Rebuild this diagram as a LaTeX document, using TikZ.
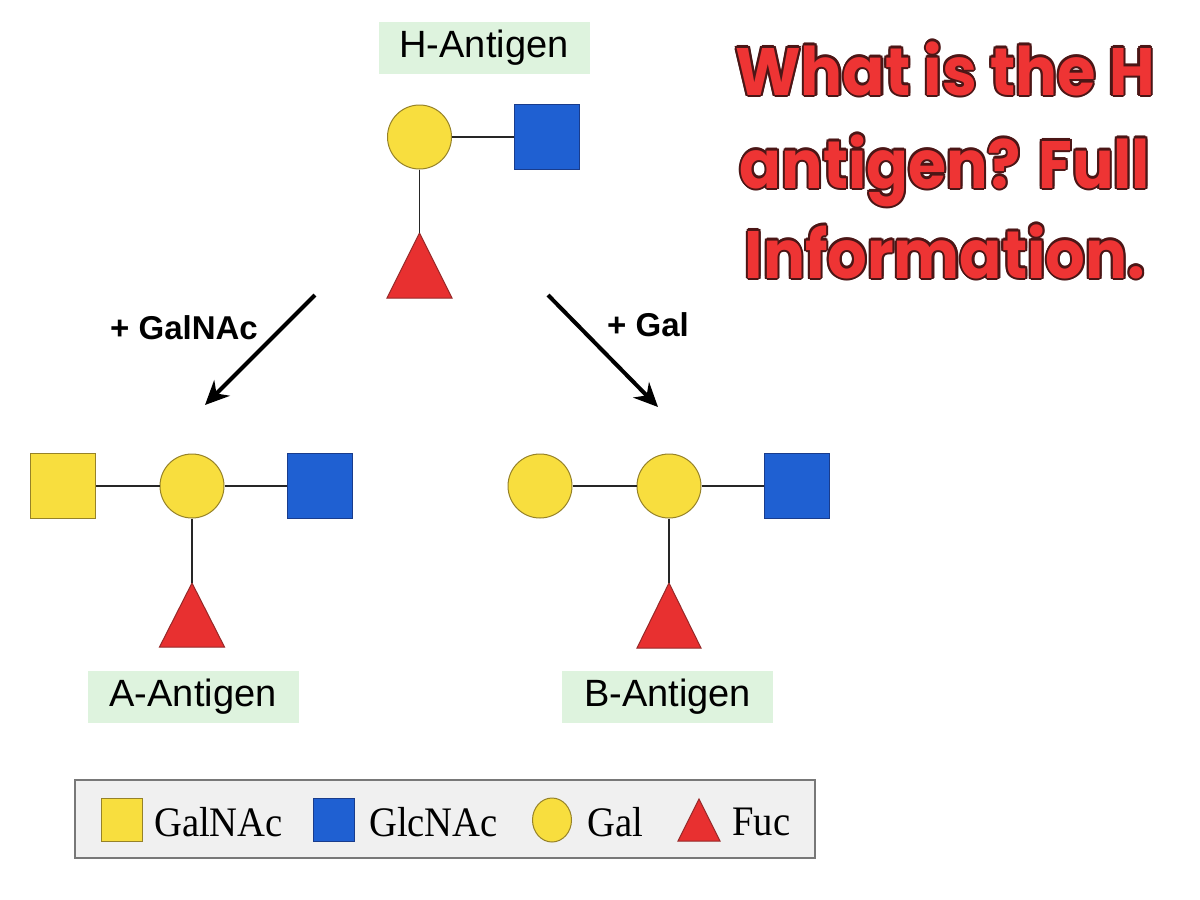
\documentclass[tikz,border=0pt]{standalone}
\usepackage{fontspec}
\usetikzlibrary{arrows.meta,shapes.geometric}
\newfontfamily\lsans{Liberation Sans}
\newfontfamily\lserif{Liberation Serif}
\newfontfamily\titlefont{Poppins}
\definecolor{galfill}{RGB}{248,222,62}
\definecolor{galedge}{RGB}{150,130,40}
\definecolor{glcfill}{RGB}{31,96,210}
\definecolor{glcedge}{RGB}{25,60,140}
\definecolor{fucfill}{RGB}{232,48,48}
\definecolor{fucedge}{RGB}{150,40,40}
\definecolor{lblgreen}{RGB}{222,243,222}
\definecolor{legbg}{RGB}{240,240,240}
\definecolor{legedge}{RGB}{120,120,120}
\definecolor{tred}{RGB}{238,52,52}
\definecolor{tdark}{RGB}{75,22,22}
\newcommand\olay[3]{\makebox[0pt][l]{\hspace*{#1}\raisebox{#2}{\textcolor{tdark}{#3}}}}
\newcommand\otext[1]{\olay{2.2pt}{0pt}{#1}\olay{1.9pt}{1.1pt}{#1}\olay{1.1pt}{1.9pt}{#1}\olay{0pt}{2.2pt}{#1}\olay{-1.1pt}{1.9pt}{#1}\olay{-1.9pt}{1.1pt}{#1}\olay{-2.2pt}{0pt}{#1}\olay{-1.9pt}{-1.1pt}{#1}\olay{-1.1pt}{-1.9pt}{#1}\olay{0pt}{-2.2pt}{#1}\olay{1.1pt}{-1.9pt}{#1}\olay{1.9pt}{-1.1pt}{#1}\textcolor{tred}{#1}}
\begin{document}
\begin{tikzpicture}[x=1pt,y=-1pt,
  gal/.style={circle,draw=galedge,fill=galfill,line width=1pt,minimum size=64pt,inner sep=0pt},
  glc/.style={rectangle,draw=glcedge,fill=glcfill,line width=1pt,minimum size=65pt,inner sep=0pt},
  galnac/.style={rectangle,draw=galedge,fill=galfill,line width=1pt,minimum size=65pt,inner sep=0pt},
  fuc/.style={draw=fucedge,fill=fucfill,line width=1pt,line join=miter},
  link/.style={draw=black!85,line width=1.3pt},
  lbl/.style={fill=lblgreen,font=\lsans\fontsize{38}{44}\selectfont,minimum width=211pt,minimum height=52pt,inner sep=0pt},
  arr/.style={line width=4pt,-{Stealth[length=24pt,width=22pt]}},
  arrlbl/.style={font=\lsans\bfseries\fontsize{33}{38}\selectfont,inner sep=0pt},
  ttl/.style={font=\titlefont\bfseries\fontsize{67}{76}\selectfont,inner sep=0pt,anchor=base},
  legtxt/.style={font=\lserif\fontsize{42}{48}\selectfont,inner sep=0pt,anchor=west}
]
\useasboundingbox[fill=white] (0,0) rectangle (1200,900);

% ---------- H antigen ----------
\node[lbl] (hl) at (484,48) {H-Antigen};
\node[gal] (hgal) at (419.5,137) {};
\node[glc] (hglc) at (547,137) {};
\draw[fuc] (387,298) -- (419.5,233) -- (452,298) -- cycle;
\coordinate (hfuc) at (419.5,233);
\draw[link] (hgal) -- (hglc);
\draw[link] (hgal.south) -- (hfuc);

% ---------- arrows ----------
\coordinate (la1) at (315,295);
\coordinate (la2) at (205,405);
\coordinate (ra1) at (548,295);
\coordinate (ra2) at (658,407);
\draw[arr] (la1) -- (la2);
\draw[arr] (ra1) -- (ra2);
\node[arrlbl] (lal) at (184,328) {+ GalNAc};
\node[arrlbl] (ral) at (648,325) {+ Gal};

% ---------- A antigen ----------
\node[galnac] (anac) at (63,486) {};
\node[gal] (agal) at (192,486) {};
\node[glc] (aglc) at (320,486) {};
\draw[fuc] (159.5,647) -- (192,583) -- (224.5,647) -- cycle;
\coordinate (afuc) at (192,583);
\draw[link] (anac) -- (agal);
\draw[link] (agal) -- (aglc);
\draw[link] (agal.south) -- (afuc);
\node[lbl] (al) at (193,696.5) {A-Antigen};

% ---------- B antigen ----------
\node[gal] (bgal1) at (540,486) {};
\node[gal] (bgal2) at (669,486) {};
\node[glc] (bglc) at (797,486) {};
\draw[fuc] (637,648) -- (669,583) -- (701,648) -- cycle;
\coordinate (bfuc) at (669,583);
\draw[link] (bgal1) -- (bgal2);
\draw[link] (bgal2) -- (bglc);
\draw[link] (bgal2.south) -- (bfuc);
\node[lbl] (bl) at (667.5,696.5) {B-Antigen};

% ---------- legend ----------
\draw[fill=legbg,draw=legedge,line width=1.2pt] (75,780) rectangle (815,858);
\node[rectangle,draw=galedge,fill=galfill,line width=1pt,minimum width=41pt,minimum height=43pt,inner sep=0pt] (lg1) at (122,820) {};
\node[legtxt] (lt1) at (154,822) {\scalebox{0.92}[1]{GalNAc}};
\node[rectangle,draw=glcedge,fill=glcfill,line width=1pt,minimum width=41pt,minimum height=43pt,inner sep=0pt] (lg2) at (334,820) {};
\node[legtxt] (lt2) at (369,822) {\scalebox{0.92}[1]{GlcNAc}};
\node[ellipse,draw=galedge,fill=galfill,line width=1pt,minimum width=39pt,minimum height=44pt,inner sep=0pt] (lg3) at (552,820) {};
\node[legtxt] (lt3) at (587,822) {\scalebox{0.92}[1]{Gal}};
\draw[fuc] (678,841) -- (699,799) -- (720,841) -- cycle;
\coordinate (lg4) at (699,820);
\node[legtxt] (lt4) at (732,822) {\scalebox{0.92}[1]{Fuc}};

% ---------- title ----------
\node[ttl] (t1) at (945,95) {\scalebox{0.93}[1]{\otext{What is the H}}};
\node[ttl] (t2) at (945,188) {\scalebox{0.92}[1]{\otext{antigen? Full}}};
\node[ttl] (t3) at (945,278) {\scalebox{0.93}[1]{\otext{Information.}}};
\end{tikzpicture}
\end{document}
